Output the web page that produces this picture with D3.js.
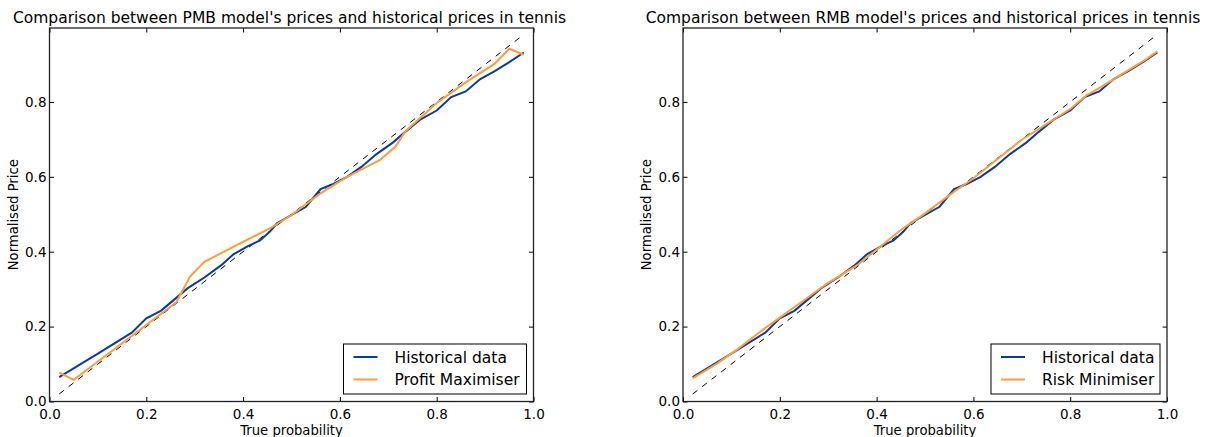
<!DOCTYPE html>
<html>
<head>
<meta charset="utf-8">
<script src="https://cdn.jsdelivr.net/npm/d3@7"></script>
<style>
  body { margin: 0; background: #fff; }
  svg { font-family: "DejaVu Sans", sans-serif; }
</style>
</head>
<body>
<div id="chart"></div>
<script>
// historical prices (same in both panels)
const histX = [0.02, 0.1, 0.17, 0.2, 0.23, 0.265, 0.285, 0.32, 0.355, 0.38, 0.41, 0.435, 0.455, 0.47, 0.5, 0.53, 0.56, 0.585, 0.615, 0.645, 0.675, 0.71, 0.735, 0.765, 0.8, 0.83, 0.86, 0.89, 0.92, 0.95, 0.98];
const histY = [0.065, 0.128, 0.184, 0.222, 0.242, 0.28, 0.302, 0.331, 0.364, 0.393, 0.415, 0.43, 0.453, 0.476, 0.498, 0.52, 0.567, 0.58, 0.6, 0.627, 0.66, 0.692, 0.72, 0.752, 0.777, 0.813, 0.828, 0.861, 0.882, 0.906, 0.932];

// PMB model
const profitX = [0.02, 0.05, 0.262, 0.29, 0.32, 0.41, 0.455, 0.5, 0.56, 0.615, 0.65, 0.683, 0.715, 0.735, 0.8, 0.86, 0.92, 0.95, 0.98];
const profitY = [0.077, 0.058, 0.265, 0.333, 0.373, 0.433, 0.462, 0.498, 0.556, 0.6, 0.623, 0.645, 0.681, 0.721, 0.797, 0.852, 0.902, 0.942, 0.926];

// RMB model
const riskX = [0.02, 0.07, 0.11, 0.15, 0.2, 0.255, 0.3, 0.36, 0.39, 0.45, 0.49, 0.56, 0.6, 0.7, 0.8, 0.835, 0.86, 0.89, 0.95, 0.98];
const riskY = [0.062, 0.101, 0.137, 0.177, 0.224, 0.275, 0.317, 0.364, 0.395, 0.458, 0.493, 0.56, 0.596, 0.699, 0.781, 0.819, 0.837, 0.861, 0.908, 0.935];

const diagX = [0.02, 0.98];

const xTicks = [0, 0.2, 0.4, 0.6, 0.8, 1.0];
const yTicks = [0, 0.2, 0.4, 0.6, 0.8];

const blue = "#0a3b9e";
const orange = "#ff9d3c";

const svg = d3.select("#chart").append("svg")
  .attr("width", 1206)
  .attr("height", 437);

function drawPanel(left, title, modelX, modelY, modelName) {
  const top = 28, bottom = 401.5, width = 484;
  const x = d3.scaleLinear().domain([0, 1]).range([left, left + width]);
  const y = d3.scaleLinear().domain([0, 1]).range([bottom, top - 1]);
  const g = svg.append("g");

  const line = d3.line().x(d => x(d[0])).y(d => y(d[1]));

  g.append("path")
    .attr("d", line(diagX.map(v => [v, v])))
    .attr("fill", "none")
    .attr("stroke", "#000")
    .attr("stroke-width", 1)
    .attr("stroke-dasharray", "6,6");

  g.append("path")
    .attr("d", line(histX.map((v, i) => [v, histY[i]])))
    .attr("fill", "none")
    .attr("stroke", blue)
    .attr("stroke-width", 2);

  g.append("path")
    .attr("d", line(modelX.map((v, i) => [v, modelY[i]])))
    .attr("fill", "none")
    .attr("stroke", orange)
    .attr("stroke-width", 2);

  // inward ticks on all sides
  const tl = 4.5;
  g.append("g").attr("transform", `translate(0,${bottom})`)
    .call(d3.axisBottom(x).tickValues(xTicks).tickSizeInner(-tl).tickSizeOuter(0).tickPadding(8).tickFormat(d3.format(".1f")));
  g.append("g").attr("transform", `translate(0,${top})`)
    .call(d3.axisTop(x).tickValues(xTicks).tickSizeInner(-tl).tickSizeOuter(0).tickFormat(""));
  g.append("g").attr("transform", `translate(${left},0)`)
    .call(d3.axisLeft(y).tickValues(yTicks).tickSizeInner(-tl).tickSizeOuter(0).tickPadding(3).tickFormat(d3.format(".1f")));
  g.append("g").attr("transform", `translate(${left + width},0)`)
    .call(d3.axisRight(y).tickValues(yTicks).tickSizeInner(-tl).tickSizeOuter(0).tickFormat(""));

  g.selectAll(".domain").remove();
  g.selectAll(".tick line").attr("stroke", "#000");
  g.selectAll(".tick text")
    .attr("font-family", "DejaVu Sans")
    .attr("font-size", 13.5)
    .attr("fill", "#000");

  g.append("rect")
    .attr("x", left).attr("y", top)
    .attr("width", width).attr("height", bottom - top)
    .attr("fill", "none")
    .attr("stroke", "#222")
    .attr("stroke-width", 1.3);

  g.append("text")
    .attr("x", left + width / 2 - 2).attr("y", 23)
    .attr("text-anchor", "middle")
    .attr("font-size", 15.5)
    .text(title);

  g.append("text")
    .attr("x", left + width / 2).attr("y", 435)
    .attr("text-anchor", "middle")
    .attr("font-size", 13.2)
    .text("True probability");

  g.append("text")
    .attr("transform", `translate(${left - 32},${(top + bottom) / 2}) rotate(-90)`)
    .attr("text-anchor", "middle")
    .attr("font-size", 13.2)
    .text("Normalised Price");

  // legend
  const lw = modelName === "Profit Maximiser" ? 183 : 169;
  const lx = left + width - 7 - lw, ly = 344;
  const lg = g.append("g").attr("transform", `translate(${lx},${ly})`);
  lg.append("rect")
    .attr("width", lw).attr("height", 50)
    .attr("fill", "#fff")
    .attr("stroke", "#000")
    .attr("stroke-width", 1);
  [["Historical data", blue], [modelName, orange]].forEach(([name, color], i) => {
    const cy = 13 + i * 22.5;
    lg.append("line")
      .attr("x1", 10).attr("x2", 34)
      .attr("y1", cy).attr("y2", cy)
      .attr("stroke", color).attr("stroke-width", 2);
    lg.append("text")
      .attr("x", 51).attr("y", cy + 5.5)
      .attr("font-size", 15.5)
      .text(name);
  });
}

drawPanel(49.5, "Comparison between PMB model's prices and historical prices in tennis", profitX, profitY, "Profit Maximiser");
drawPanel(683, "Comparison between RMB model's prices and historical prices in tennis", riskX, riskY, "Risk Minimiser");
</script>
</body>
</html>
